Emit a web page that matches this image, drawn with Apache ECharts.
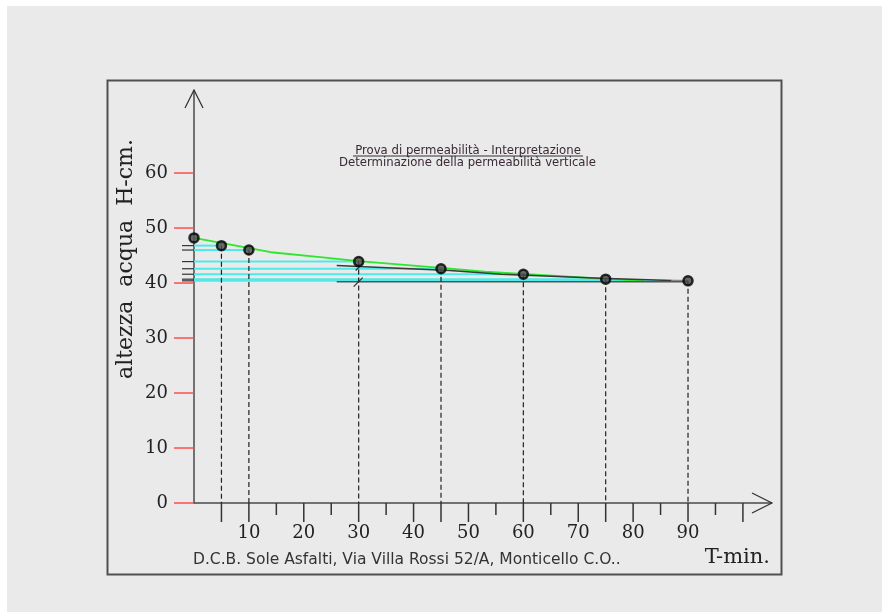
<!DOCTYPE html>
<html>
<head>
<meta charset="utf-8">
<script src="https://cdn.jsdelivr.net/npm/echarts@6/dist/echarts.min.js"></script>
<style>
html,body{margin:0;padding:0;background:#ffffff;}
#wrap{position:absolute;left:7px;top:6px;width:875px;height:606px;background:#eaeaea;}
#chart{position:absolute;left:-7px;top:-6px;width:882px;height:612px;}
</style>
</head>
<body>
<div id="wrap"><div id="chart"></div></div>
<script>
// ---- data ----
const times   = [0, 5, 10, 30, 45, 60, 75, 90];
const heights = [48.2, 46.8, 46.0, 43.9, 42.6, 41.6, 40.7, 40.4];
const greenLine = [[0,48.2],[14,45.6],[23,44.7],[30,44.0],[45,42.75],[53,42.05],[66,41.3],[76,40.7],[82,40.4]];
const darkLine  = [[26,43.2],[30,43.0],[46.6,42.3],[56,41.6],[74,40.85],[87,40.45]];
const darkTail  = [[87,40.45],[90,40.4]];
const baseLine  = [[26,40.25],[90,40.25]];
const xLabelValues = [10,20,30,40,50,60,70,80,90];
const yLabelValues = [0,10,20,30,40,50,60];
const xLongTicks  = [5,10,20,30,40,45,50,60,70,75,80,90,100];
const xShortTicks = [15,25,35,55,65,85,95];
const titleLine1 = 'Prova di permeabilità - Interpretazione';
const titleLine2 = 'Determinazione della permeabilità verticale';
const footText = 'D.C.B. Sole Asfalti, Via Villa Rossi 52/A, Monticello C.O..';
const xName = 'T-min.';
const yName = 'altezza  acqua  H-cm.';

const X_MAX = 105.3, Y_MAX = 75.1;
const chart = echarts.init(document.getElementById('chart'), null, {renderer:'canvas'});

const pts = times.map((t,i)=>[t, heights[i]]);
const levelPts = pts.slice(1);

function lineItem(p1,p2,style){return {type:'line',shape:{x1:p1[0],y1:p1[1],x2:p2[0],y2:p2[1]},style:style};}

const option = {
  backgroundColor: 'transparent',
  animation: false,
  grid: {left:194, top:90, width:578, height:413, containLabel:false},
  xAxis: {
    type:'value', min:0, max:X_MAX, interval:10,
    axisLine:{show:true, lineStyle:{color:'#4a4a4a', width:1.5}},
    axisTick:{show:false}, splitLine:{show:false},
    axisLabel:{margin:21, color:'#222', fontFamily:'DejaVu Serif', fontSize:18,
      formatter:v=> xLabelValues.indexOf(v)>=0 ? String(v) : ''}
  },
  yAxis: {
    type:'value', min:0, max:Y_MAX, interval:10,
    axisLine:{show:true, lineStyle:{color:'#4a4a4a', width:1.5}},
    axisTick:{show:false}, splitLine:{show:false},
    axisLabel:{margin:26, color:'#222', fontFamily:'DejaVu Serif', fontSize:18,
      formatter:v=> yLabelValues.indexOf(v)>=0 ? String(v) : ''}
  },
  graphic: [
    {type:'rect', shape:{x:107.5,y:80.5,width:674,height:494}, style:{fill:'none', stroke:'#505050', lineWidth:2}, z:0},
    {type:'text', x:468, y:150.5, style:{text:titleLine1, font:'11.7px "DejaVu Sans"', fill:'#3a2a36', textAlign:'center', textVerticalAlign:'middle'}},
    {type:'line', shape:{x1:353,y1:156,x2:583,y2:156}, style:{stroke:'#333', lineWidth:1}},
    {type:'text', x:467.5, y:163, style:{text:titleLine2, font:'11.7px "DejaVu Sans"', fill:'#3a2a36', textAlign:'center', textVerticalAlign:'middle'}},
    {type:'text', x:193, y:560, style:{text:footText, font:'15.5px "DejaVu Sans"', fill:'#333', textAlign:'left', textVerticalAlign:'middle'}},
    {type:'text', x:770, y:558, style:{text:xName, font:'21px "DejaVu Serif"', fill:'#222', textAlign:'right', textVerticalAlign:'middle'}},
    {type:'text', x:126, y:259, rotation:Math.PI/2, style:{text:yName, font:'22px "DejaVu Serif"', fill:'#222', textAlign:'center', textVerticalAlign:'middle'}}
  ],
  series: [
    {type:'custom', coordinateSystem:'cartesian2d', z:2, silent:true,
      data: levelPts,
      renderItem:(params, api)=>{
        const a = api.coord([0, api.value(1)]);
        const b = api.coord([api.value(0), api.value(1)]);
        return lineItem(a,b,{stroke:'#4fe9e9', lineWidth:2});
      }},
    {type:'line', data:greenLine, z:3, symbol:'none', lineStyle:{color:'#2ee62e', width:1.8}},
    {type:'line', data:darkLine, z:4, symbol:'none', lineStyle:{color:'#3a3a3a', width:1.5}},
    {type:'line', data:darkTail, z:4, symbol:'none', lineStyle:{color:'#8a8a8a', width:1.5}},
    {type:'line', data:baseLine, z:4, symbol:'none', lineStyle:{color:'#555', width:1.5}},
    {type:'custom', coordinateSystem:'cartesian2d', z:5, silent:true,
      data: levelPts,
      renderItem:(params, api)=>{
        const a = api.coord([api.value(0), api.value(1)]);
        const b = api.coord([api.value(0), 0]);
        return lineItem(a,b,{stroke:'#222', lineWidth:1.2, lineDash:[5,3]});
      }},
    {type:'custom', coordinateSystem:'cartesian2d', z:5, silent:true,
      data: levelPts,
      renderItem:(params, api)=>{
        const a = api.coord([0, api.value(1)]);
        return lineItem([a[0]-12,a[1]],a,{stroke:'#333', lineWidth:1.2});
      }},
    {type:'custom', coordinateSystem:'cartesian2d', z:5, silent:true,
      data: yLabelValues.map(v=>[0,v]),
      renderItem:(params, api)=>{
        const a = api.coord([0, api.value(1)]);
        return lineItem([a[0]-20,a[1]],a,{stroke:'#ff4d4d', lineWidth:1.5});
      }},
    {type:'custom', coordinateSystem:'cartesian2d', z:5, silent:true,
      data: xLongTicks.map(v=>[v,0]),
      renderItem:(params, api)=>{
        const a = api.coord([api.value(0), 0]);
        return lineItem(a,[a[0],a[1]+19],{stroke:'#333', lineWidth:1.5});
      }},
    {type:'custom', coordinateSystem:'cartesian2d', z:5, silent:true,
      data: xShortTicks.map(v=>[v,0]),
      renderItem:(params, api)=>{
        const a = api.coord([api.value(0), 0]);
        return lineItem(a,[a[0],a[1]+12],{stroke:'#333', lineWidth:1.5});
      }},
    {type:'custom', coordinateSystem:'cartesian2d', z:6, silent:true,
      data: [[0, Y_MAX, X_MAX]],
      renderItem:(params, api)=>{
        const yt = api.coord([0, api.value(1)]);
        const xt = api.coord([api.value(2), 0]);
        const m1 = api.coord([30, baseLine[0][1]]);
        const m2 = api.coord([30, darkLine[1][1]]);
        const st = {stroke:'#333', lineWidth:1.3};
        return {type:'group', children:[
          lineItem(yt,[yt[0]-9,yt[1]+18],st),
          lineItem(yt,[yt[0]+9,yt[1]+18],st),
          lineItem(xt,[xt[0]-20,xt[1]-10],st),
          lineItem(xt,[xt[0]-20,xt[1]+10],st),
          lineItem([m1[0]-5,m1[1]+5],[m1[0]+4,m1[1]-4],{stroke:'#333', lineWidth:1.2}),
          lineItem([m2[0]-3,m2[1]+4],[m2[0]+1,m2[1]],{stroke:'#333', lineWidth:1.2})
        ]};
      }},
    {type:'scatter', data:pts, z:8, symbol:'circle', symbolSize:9,
      itemStyle:{color:'#4a4a4a', borderColor:'#000', borderWidth:2.5}}
  ]
};
chart.setOption(option);
</script>
</body>
</html>
